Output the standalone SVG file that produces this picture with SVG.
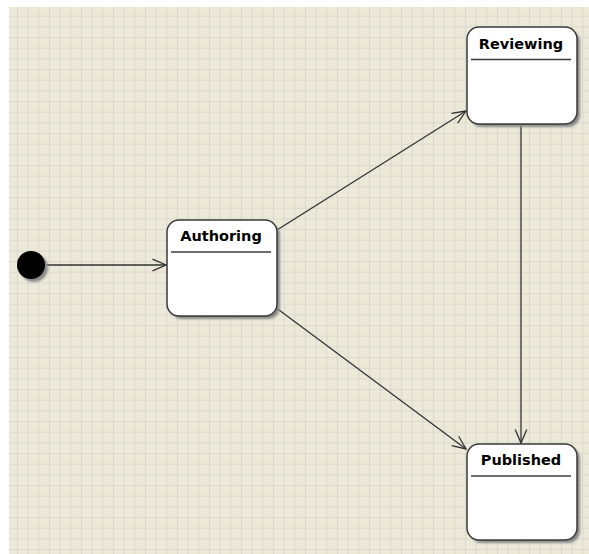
<svg xmlns="http://www.w3.org/2000/svg" width="589" height="554" viewBox="0 0 589 554">
  <defs>
    <pattern id="grid" x="7.3" y="6" width="10.667" height="10.667" patternUnits="userSpaceOnUse">
      <rect width="10.667" height="10.667" fill="#ece9d8"/>
      <path d="M10.667 0 V10.667 M0 10.667 H10.667" stroke="#d6d4ce" stroke-width="1.6" fill="none"/>
    </pattern>
    <filter id="soft" x="-10%" y="-10%" width="130%" height="130%">
      <feGaussianBlur stdDeviation="1"/>
    </filter>
    <marker id="open" viewBox="-15 -8 17 16" markerWidth="17" markerHeight="16" refX="0" refY="0" orient="auto" markerUnits="userSpaceOnUse">
      <path d="M-13.5 -5.8 L0 0 L-13.5 5.8" fill="none" stroke="#333" stroke-width="1.3"/>
    </marker>
  </defs>
  <style>
    .shadow { fill: #8a8a8a; filter: url(#soft); }
    .box { fill: #ffffff; stroke: #3a3a3a; stroke-width: 1.5; }
    .div { stroke: #3a3a3a; stroke-width: 1.3; }
    .title { font-family: "DejaVu Sans", sans-serif; font-weight: bold; font-size: 14.5px; fill: #000; text-anchor: middle; }
    .edge { fill: none; stroke: #333; stroke-width: 1.3; marker-end: url(#open); }
  </style>

  <!-- drawing canvas -->
  <rect width="589" height="554" fill="#ffffff"/>
  <rect x="9" y="7" width="580" height="547" fill="url(#grid)"/>

  <!-- transitions -->
  <g id="connectors">
    <line class="edge" x1="45" y1="265" x2="166" y2="265"/>
    <line class="edge" x1="277" y1="230" x2="466" y2="111"/>
    <line class="edge" x1="275" y1="307" x2="466" y2="449"/>
    <line class="edge" x1="521" y1="124" x2="521" y2="443"/>
  </g>

  <!-- initial pseudo-state -->
  <g id="initial">
    <circle class="shadow" cx="34" cy="268" r="14"/>
    <circle cx="31" cy="265" r="14" fill="#000"/>
  </g>

  <g id="authoring">
    <rect class="shadow" x="170" y="223" width="110" height="96" rx="12"/>
    <rect class="box" x="167" y="220" width="110" height="96" rx="12"/>
    <line class="div" x1="171" y1="252" x2="271" y2="252"/>
    <text class="title" x="221" y="241">Authoring</text>
  </g>

  <g id="reviewing">
    <rect class="shadow" x="470" y="30" width="110" height="97" rx="12"/>
    <rect class="box" x="467" y="27" width="110" height="97" rx="12"/>
    <line class="div" x1="471" y1="59.5" x2="571" y2="59.5"/>
    <text class="title" x="521" y="48.5">Reviewing</text>
  </g>

  <g id="published">
    <rect class="shadow" x="470" y="447" width="110" height="96" rx="12"/>
    <rect class="box" x="467" y="444" width="110" height="96" rx="12"/>
    <line class="div" x1="471" y1="476" x2="571" y2="476"/>
    <text class="title" x="521" y="465">Published</text>
  </g>
</svg>
